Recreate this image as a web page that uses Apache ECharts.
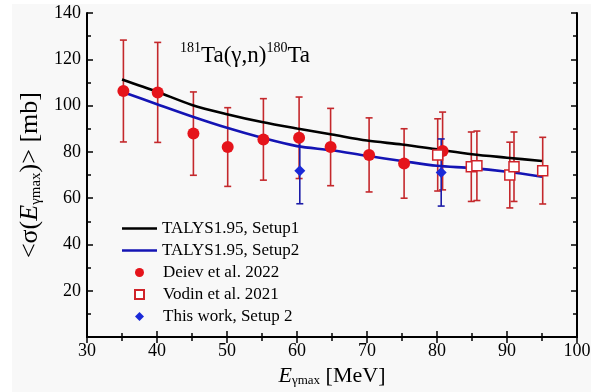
<!DOCTYPE html>
<html>
<head>
<meta charset="utf-8">
<script src="https://cdn.jsdelivr.net/npm/echarts@6/dist/echarts.min.js"></script>
<style>
  html, body { margin: 0; padding: 0; background: #fff; }
  #main { width: 595px; height: 392px; }
</style>
</head>
<body>
<div id="main"></div>
<script>
// TALYS curves
var talysX = [35, 40, 45, 50, 55, 60, 65, 70, 75, 80, 85, 90, 95];
var setup1Y = [111.3, 106.0, 100.3, 96.3, 92.9, 90.1, 87.5, 84.9, 83.2, 81.1, 79.0, 77.5, 76.1];
var setup2Y = [106.0, 100.6, 95.3, 90.4, 86.1, 82.5, 80.7, 78.3, 76.1, 74.0, 73.0, 71.4, 69.3];

// Deiev et al. 2022
var deievX = [35.2, 40.1, 45.2, 50.1, 55.2, 60.3, 64.8, 70.3, 75.3, 80.8];
var deievY = [106.3, 105.7, 87.9, 82.1, 85.4, 86.1, 82.1, 78.7, 75.0, 80.4];
var deievErr = [22.0, 21.6, 18.0, 17.0, 17.6, 17.6, 16.7, 16.0, 15.0, 16.8];

// Vodin et al. 2021
var vodinX = [80.1, 84.9, 85.7, 90.4, 91.0, 95.1];
var vodinY = [78.7, 73.6, 74.0, 70.0, 73.6, 71.9];
var vodinErr = [15.6, 15.0, 15.0, 14.2, 15.0, 14.4];

// This work, Setup 2
var thisX = [60.4, 80.6];
var thisY = [71.9, 71.1];
var thisErr = [14.3, 14.5];

var font = 'Liberation Serif';
var myChart = echarts.init(document.getElementById('main'));

function pairs(xs, ys) {
  return xs.map(function (x, i) { return [x, ys[i]]; });
}

function errorBars(xs, ys, es, color) {
  return {
    type: 'custom',
    z: 1,
    silent: true,
    data: xs.map(function (x, i) { return [x, ys[i] - es[i], ys[i] + es[i]]; }),
    encode: { x: 0, y: [1, 2] },
    renderItem: function (params, api) {
      var lo = api.coord([api.value(0), api.value(1)]);
      var hi = api.coord([api.value(0), api.value(2)]);
      var w = 3.5;
      var st = { stroke: color, lineWidth: 1.6 };
      return {
        type: 'group',
        children: [
          { type: 'line', shape: { x1: lo[0], y1: lo[1], x2: hi[0], y2: hi[1] }, style: st },
          { type: 'line', shape: { x1: lo[0] - w, y1: lo[1], x2: lo[0] + w, y2: lo[1] }, style: st },
          { type: 'line', shape: { x1: hi[0] - w, y1: hi[1], x2: hi[0] + w, y2: hi[1] }, style: st }
        ]
      };
    }
  };
}

var axisLine = { lineStyle: { color: '#000', width: 2 } };
var tick = { inside: true, length: 6, lineStyle: { color: '#000', width: 1.5 } };
var minor = { show: true, splitNumber: 2, length: 4, lineStyle: { color: '#000', width: 1.5 } };
var lbl = { color: '#000', fontFamily: font, fontSize: 18 };
var legText = { fontFamily: font, fontSize: 17, color: '#000' };

var option = {
  backgroundColor: '#fff',
  animation: false,
  graphic: [{
    type: 'rect', z: -10, silent: true,
    shape: { x: 12, y: 4, width: 579, height: 388 },
    style: { fill: '#f8f8f8' }
  }],
  title: {
    left: 175, top: 36,
    text: '{s|181}{m|Ta(γ,n)}{s|180}{m|Ta}',
    textStyle: {
      rich: {
        s: { fontFamily: font, fontSize: 14, fontWeight: 'normal', color: '#000', verticalAlign: 'top', lineHeight: 26 },
        m: { fontFamily: font, fontSize: 23, fontWeight: 'normal', color: '#000', lineHeight: 30 }
      }
    }
  },
  legend: [{
    orient: 'vertical',
    left: 117, top: 215,
    itemWidth: 35, itemHeight: 2.6,
    itemGap: 5,
    textStyle: legText,
    data: [
      { name: 'TALYS1.95, Setup1', icon: 'rect' },
      { name: 'TALYS1.95, Setup2', icon: 'rect' }
    ]
  }, {
    orient: 'vertical',
    left: 129, top: 259,
    itemWidth: 9, itemHeight: 9,
    itemGap: 5,
    textStyle: Object.assign({ padding: [0, 0, 0, 14] }, legText),
    data: ['Deiev et al. 2022', 'Vodin et al. 2021', 'This work, Setup 2']
  }],
  grid: { left: 87, right: 18, top: 13, bottom: 50 },
  xAxis: [{
    type: 'value', min: 30, max: 100, interval: 10,
    axisLine: axisLine, axisTick: tick, minorTick: minor,
    splitLine: { show: false },
    axisLabel: Object.assign({ margin: 5 }, lbl),
    name: '{i|E}{sub|γmax}{n| [MeV]}',
    nameLocation: 'middle', nameGap: 23,
    nameTextStyle: {
      rich: {
        i: { fontFamily: font, fontStyle: 'italic', fontSize: 22, color: '#000' },
        sub: { fontFamily: font, fontSize: 13, color: '#000', verticalAlign: 'bottom', lineHeight: 22 },
        n: { fontFamily: font, fontSize: 22, color: '#000' }
      }
    }
  }, {
    type: 'value', min: 30, max: 100, interval: 10, position: 'top',
    axisLine: axisLine, axisTick: tick, minorTick: minor,
    splitLine: { show: false }, axisLabel: { show: false }
  }],
  yAxis: [{
    type: 'value', min: 0, max: 140, interval: 20,
    axisLine: axisLine, axisTick: tick, minorTick: minor,
    splitLine: { show: false },
    axisLabel: Object.assign({ margin: 6, showMinLabel: false }, lbl),
    name: '{n|<σ(}{i|E}{sub|γmax}{n|)> [mb]}',
    nameLocation: 'middle', nameRotate: 90, nameGap: 37,
    nameTextStyle: {
      rich: {
        i: { fontFamily: font, fontStyle: 'italic', fontSize: 26, color: '#000' },
        sub: { fontFamily: font, fontSize: 15, color: '#000', verticalAlign: 'bottom', lineHeight: 26 },
        n: { fontFamily: font, fontSize: 26, color: '#000' }
      }
    }
  }, {
    type: 'value', min: 0, max: 140, interval: 20, position: 'right',
    axisLine: axisLine, axisTick: tick, minorTick: minor,
    splitLine: { show: false }, axisLabel: { show: false }
  }],
  series: [
    errorBars(deievX, deievY, deievErr, '#c4282c'),
    errorBars(vodinX, vodinY, vodinErr, '#c4282c'),
    errorBars(thisX, thisY, thisErr, '#1c1ca8'),
    {
      name: 'TALYS1.95, Setup1', type: 'line', smooth: 0.3, symbol: 'none', z: 3,
      data: pairs(talysX, setup1Y),
      lineStyle: { color: '#000', width: 2.6 }, itemStyle: { color: '#000' }
    },
    {
      name: 'TALYS1.95, Setup2', type: 'line', smooth: 0.3, symbol: 'none', z: 3,
      data: pairs(talysX, setup2Y),
      lineStyle: { color: '#1414b4', width: 2.6 }, itemStyle: { color: '#1414b4' }
    },
    {
      name: 'Deiev et al. 2022', type: 'scatter', symbol: 'circle', symbolSize: 12, z: 4,
      data: pairs(deievX, deievY),
      itemStyle: { color: '#e5141b', opacity: 1 }
    },
    {
      name: 'Vodin et al. 2021', type: 'scatter', symbol: 'rect', symbolSize: 10, z: 4,
      data: pairs(vodinX, vodinY),
      itemStyle: { color: '#fff', borderColor: '#d0232a', borderWidth: 1.5, opacity: 1 }
    },
    {
      name: 'This work, Setup 2', type: 'scatter', symbol: 'diamond', symbolSize: 11, z: 5,
      data: pairs(thisX, thisY),
      itemStyle: { color: '#1a2ad8', opacity: 1 }
    }
  ]
};

myChart.setOption(option);
</script>
</body>
</html>
